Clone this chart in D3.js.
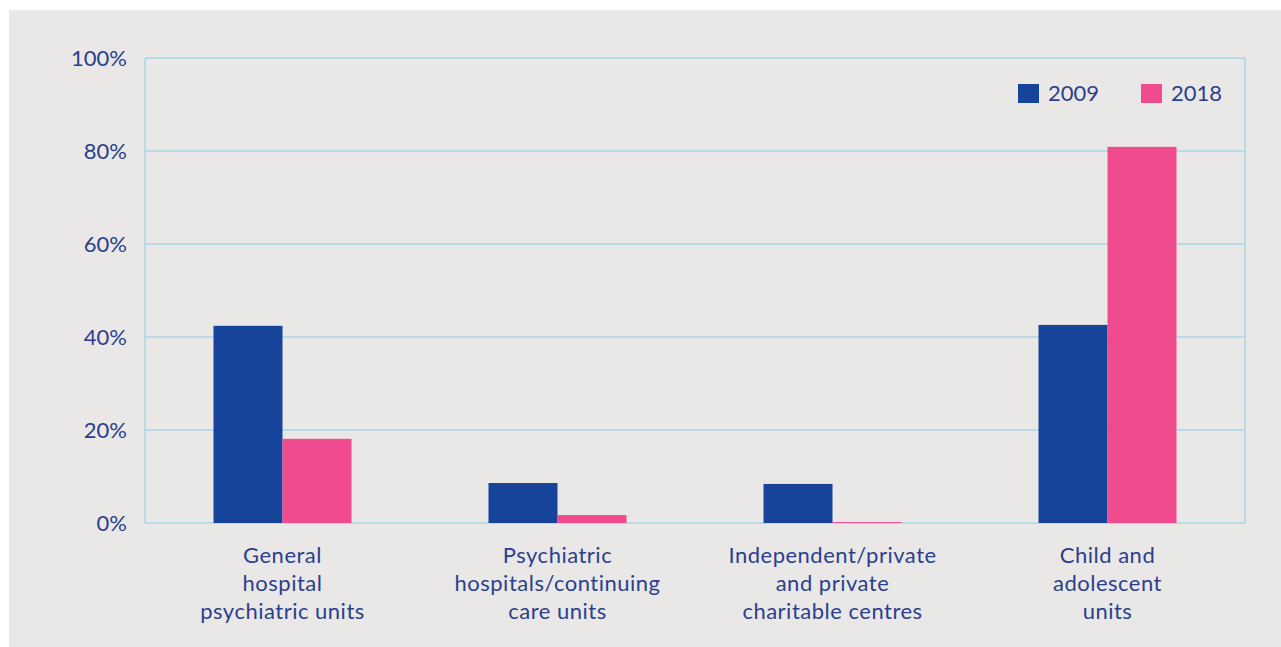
<!DOCTYPE html>
<meta charset="utf-8">
<style>
  body { margin: 0; background: #fff; }
  text { font-family: "Lato", sans-serif; fill: #2b3f8e; }
</style>
<body>
<script src="https://cdn.jsdelivr.net/npm/d3@7"></script>
<script>

// data
var categories = [
  ["General", "hospital", "psychiatric units"],
  ["Psychiatric", "hospitals/continuing", "care units"],
  ["Independent/private", "and private", "charitable centres"],
  ["Child and", "adolescent", "units"]
];
var years = ["2009", "2018"];
var values2009 = [42.4, 8.6, 8.4, 42.6];
var values2018 = [18.1, 1.7, 0.2, 80.9];
var yTicks = [0, 20, 40, 60, 80, 100];
var colors = ["#17449b", "#ef4b8e"];

var width = 1281, height = 647;
var margin = {top: 58, right: 36, bottom: 124, left: 145};

var svg = d3.select("body").append("svg")
    .attr("width", width)
    .attr("height", height);

// grey panel
svg.append("rect")
    .attr("x", 9).attr("y", 10)
    .attr("width", width - 9).attr("height", height - 10)
    .attr("fill", "#e9e8e6");

var x0 = d3.scaleBand()
    .domain(d3.range(categories.length))
    .range([margin.left, width - margin.right]);

var x1 = d3.scaleBand()
    .domain(years)
    .range([0, 138]);

var y = d3.scaleLinear()
    .domain([0, 100])
    .range([height - margin.bottom, margin.top]);

var grid = "#a6d8e6";

// gridlines
svg.selectAll("line.grid")
    .data(yTicks)
  .enter().append("line")
    .attr("class", "grid")
    .attr("x1", margin.left).attr("x2", width - margin.right)
    .attr("y1", function(d) { return y(d); })
    .attr("y2", function(d) { return y(d); })
    .attr("stroke", grid)
    .attr("stroke-width", 1.5);

// left/right frame
[margin.left, width - margin.right].forEach(function(xx) {
  svg.append("line")
      .attr("x1", xx).attr("x2", xx)
      .attr("y1", y(100)).attr("y2", y(0))
      .attr("stroke", grid)
      .attr("stroke-width", 1.5);
});

// y tick labels
svg.selectAll("text.ytick")
    .data(yTicks)
  .enter().append("text")
    .attr("class", "ytick")
    .attr("x", 127)
    .attr("y", function(d) { return y(d); })
    .attr("dy", "0.35em")
    .attr("text-anchor", "end")
    .style("font-size", "22px")
    .text(function(d) { return d + "%"; });

// bars
var series = [values2009, values2018];
var groups = svg.selectAll("g.cat")
    .data(categories)
  .enter().append("g")
    .attr("class", "cat")
    .attr("transform", function(d, i) {
      return "translate(" + (x0(i) + x0.bandwidth() / 2 - 69) + ",0)";
    });

groups.selectAll("rect")
    .data(function(d, i) {
      return years.map(function(yr, j) { return {year: yr, value: series[j][i], color: colors[j]}; });
    })
  .enter().append("rect")
    .attr("x", function(d) { return x1(d.year); })
    .attr("y", function(d) { return y(d.value); })
    .attr("width", x1.bandwidth())
    .attr("height", function(d) { return y(0) - y(d.value); })
    .attr("fill", function(d) { return d.color; });

// category labels
var labels = svg.selectAll("text.cat")
    .data(categories)
  .enter().append("text")
    .attr("class", "cat")
    .attr("text-anchor", "middle")
    .style("font-size", "22px")
    .style("letter-spacing", "0.5px")
    .attr("transform", function(d, i) {
      return "translate(" + (x0(i) + x0.bandwidth() / 2) + ",563)";
    });

labels.selectAll("tspan")
    .data(function(d) { return d; })
  .enter().append("tspan")
    .attr("x", 0)
    .attr("y", function(d, i) { return i * 28; })
    .text(function(d) { return d; });

// legend
var legend = svg.selectAll("g.legend")
    .data(years)
  .enter().append("g")
    .attr("class", "legend")
    .attr("transform", function(d, i) { return "translate(" + (1018 + i * 123) + ",84)"; });

legend.append("rect")
    .attr("width", 21).attr("height", 19)
    .attr("fill", function(d, i) { return colors[i]; });

legend.append("text")
    .attr("x", 30).attr("y", 17)
    .style("font-size", "22px")
    .text(function(d) { return d; });

</script>
